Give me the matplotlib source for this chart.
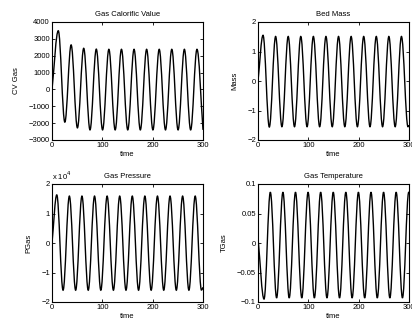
"""
Four oscillating process signals (gas calorific value, bed mass,
gas pressure, gas temperature) against time, MATLAB-style 2x2 subplots.
"""

import matplotlib
matplotlib.use('Agg')
import matplotlib.pyplot as plt
from matplotlib.path import Path
from matplotlib.patches import PathPatch
from matplotlib.ticker import FuncFormatter

# turning points (time, value), plus the two end points
cv_t = [0, 12.5, 25.5, 38, 50.5, 63, 75.5, 88, 100.5, 113, 125.5, 138, 150.5,
        163, 175.5, 188, 200.5, 213, 225.5, 238, 250.5, 263, 275.5, 288, 300]
cv_y = [0, 3480, -1940, 2640, -2280, 2440, -2400, 2390, -2400, 2380, -2400, 2380, -2400,
        2380, -2400, 2380, -2400, 2380, -2400, 2380, -2400, 2380, -2400, 2380, -2400]

mass_t = [0, 10, 22.5, 35, 47.5, 60, 72.5, 85, 97.5, 110, 122.5, 135, 147.5,
          160, 172.5, 185, 197.5, 210, 222.5, 235, 247.5, 260, 272.5, 285, 298, 300]
mass_y = [0, 1.55, -1.56, 1.51, -1.55, 1.51, -1.55, 1.51, -1.55, 1.51, -1.55, 1.51, -1.55,
          1.51, -1.55, 1.51, -1.55, 1.51, -1.55, 1.51, -1.55, 1.51, -1.55, 1.51, -1.55, -1.5]

pres_t = [0, 9.5, 22, 34.5, 47, 59.5, 72, 84.5, 97, 109.5, 122, 134.5, 147,
          159.5, 172, 184.5, 197, 209.5, 222, 234.5, 247, 259.5, 272, 284.5, 297, 300]
pres_y = [0, 16300, -16000, 15900, -16000, 15900, -16000, 15900, -16000, 15900, -16000, 15900, -16000,
          15900, -16000, 15900, -16000, 15900, -16000, 15900, -16000, 15900, -16000, 15900, -16000, -15000]

temp_t = [0, 12, 24.5, 37, 49.5, 62, 74.5, 87, 99.5, 112, 124.5, 137, 149.5,
          162, 174.5, 187, 199.5, 212, 224.5, 237, 249.5, 262, 274.5, 287, 299.5, 300]
temp_y = [0.008, -0.095, 0.086, -0.093, 0.086, -0.093, 0.086, -0.093, 0.086, -0.093, 0.086, -0.093, 0.086,
          -0.093, 0.086, -0.093, 0.086, -0.093, 0.086, -0.093, 0.086, -0.093, 0.086, -0.093, 0.086, 0.086]

titles = ['Gas Calorific Value', 'Bed Mass', 'Gas Pressure', 'Gas Temperature']
ylabels = ['CV Gas', 'Mass', 'PGas', 'TGas']
xticks = [0, 100, 200, 300]
cv_ticks = [-3000, -2000, -1000, 0, 1000, 2000, 3000, 4000]
mass_ticks = [-2, -1, 0, 1, 2]
pres_ticks = [-20000, -10000, 0, 10000, 20000]
temp_ticks = [-0.1, -0.05, 0, 0.05, 0.1]


def smooth_path(t, y, k=0.364):
    """Cubic Bezier through the turning points (flat tangents at the peaks)."""
    verts = [(t[0], y[0])]
    codes = [Path.MOVETO]
    n = len(t)
    for i in range(n - 1):
        dt = t[i+1] - t[i]
        dy = y[i+1] - y[i]
        s0 = dy / dt if i == 0 else 0.0
        s1 = dy / dt if i + 1 == n - 1 else 0.0
        verts += [(t[i] + k*dt, y[i] + s0*k*dt),
                  (t[i+1] - k*dt, y[i+1] - s1*k*dt),
                  (t[i+1], y[i+1])]
        codes += [Path.CURVE4]*3
    return Path(verts, codes)


def fmt(v, pos):
    return ('%g' % v).replace('-', '\u2212')


plt.rcParams['font.family'] = ['Liberation Sans', 'DejaVu Sans']
plt.rcParams['font.size'] = 5.5

fig = plt.figure(figsize=(4.12, 3.26), dpi=100)
w, h = 151/412, 118/326
boxes = [[52/412, 1 - 140/326, w, h],
         [258/412, 1 - 140/326, w, h],
         [52/412, 1 - 302/326, w, h],
         [258/412, 1 - 302/326, w, h]]

series = [(cv_t, cv_y, cv_ticks), (mass_t, mass_y, mass_ticks),
          (pres_t, pres_y, pres_ticks), (temp_t, temp_y, temp_ticks)]

for i, (t, y, yt) in enumerate(series):
    ax = fig.add_axes(boxes[i])
    ax.add_patch(PathPatch(smooth_path(t, y), fill=False, edgecolor='k', lw=1.0))
    ax.set_xlim(0, 300)
    ax.set_ylim(yt[0], yt[-1])
    ax.set_xticks(xticks)
    ax.set_yticks(yt)
    if i == 2:
        ax.yaxis.set_major_formatter(FuncFormatter(lambda v, p: fmt(v/1e4, p)))
        ax.text(0, 1.015, r'x 10$^4$', transform=ax.transAxes, fontsize=5.5,
                ha='left', va='bottom')
    else:
        ax.yaxis.set_major_formatter(FuncFormatter(fmt))
    ax.xaxis.set_major_formatter(FuncFormatter(fmt))
    ax.tick_params(direction='in', top=True, right=True, length=2.5, width=0.6,
                   labelsize=5.5, pad=1.5)
    for sp in ax.spines.values():
        sp.set_linewidth(0.8)
    ax.set_title(titles[i], fontsize=5.5, pad=4)
    ax.set_xlabel('time', labelpad=1.5)
    ax.set_ylabel(ylabels[i], labelpad=6.5)

plt.savefig('out.png', dpi=100)
